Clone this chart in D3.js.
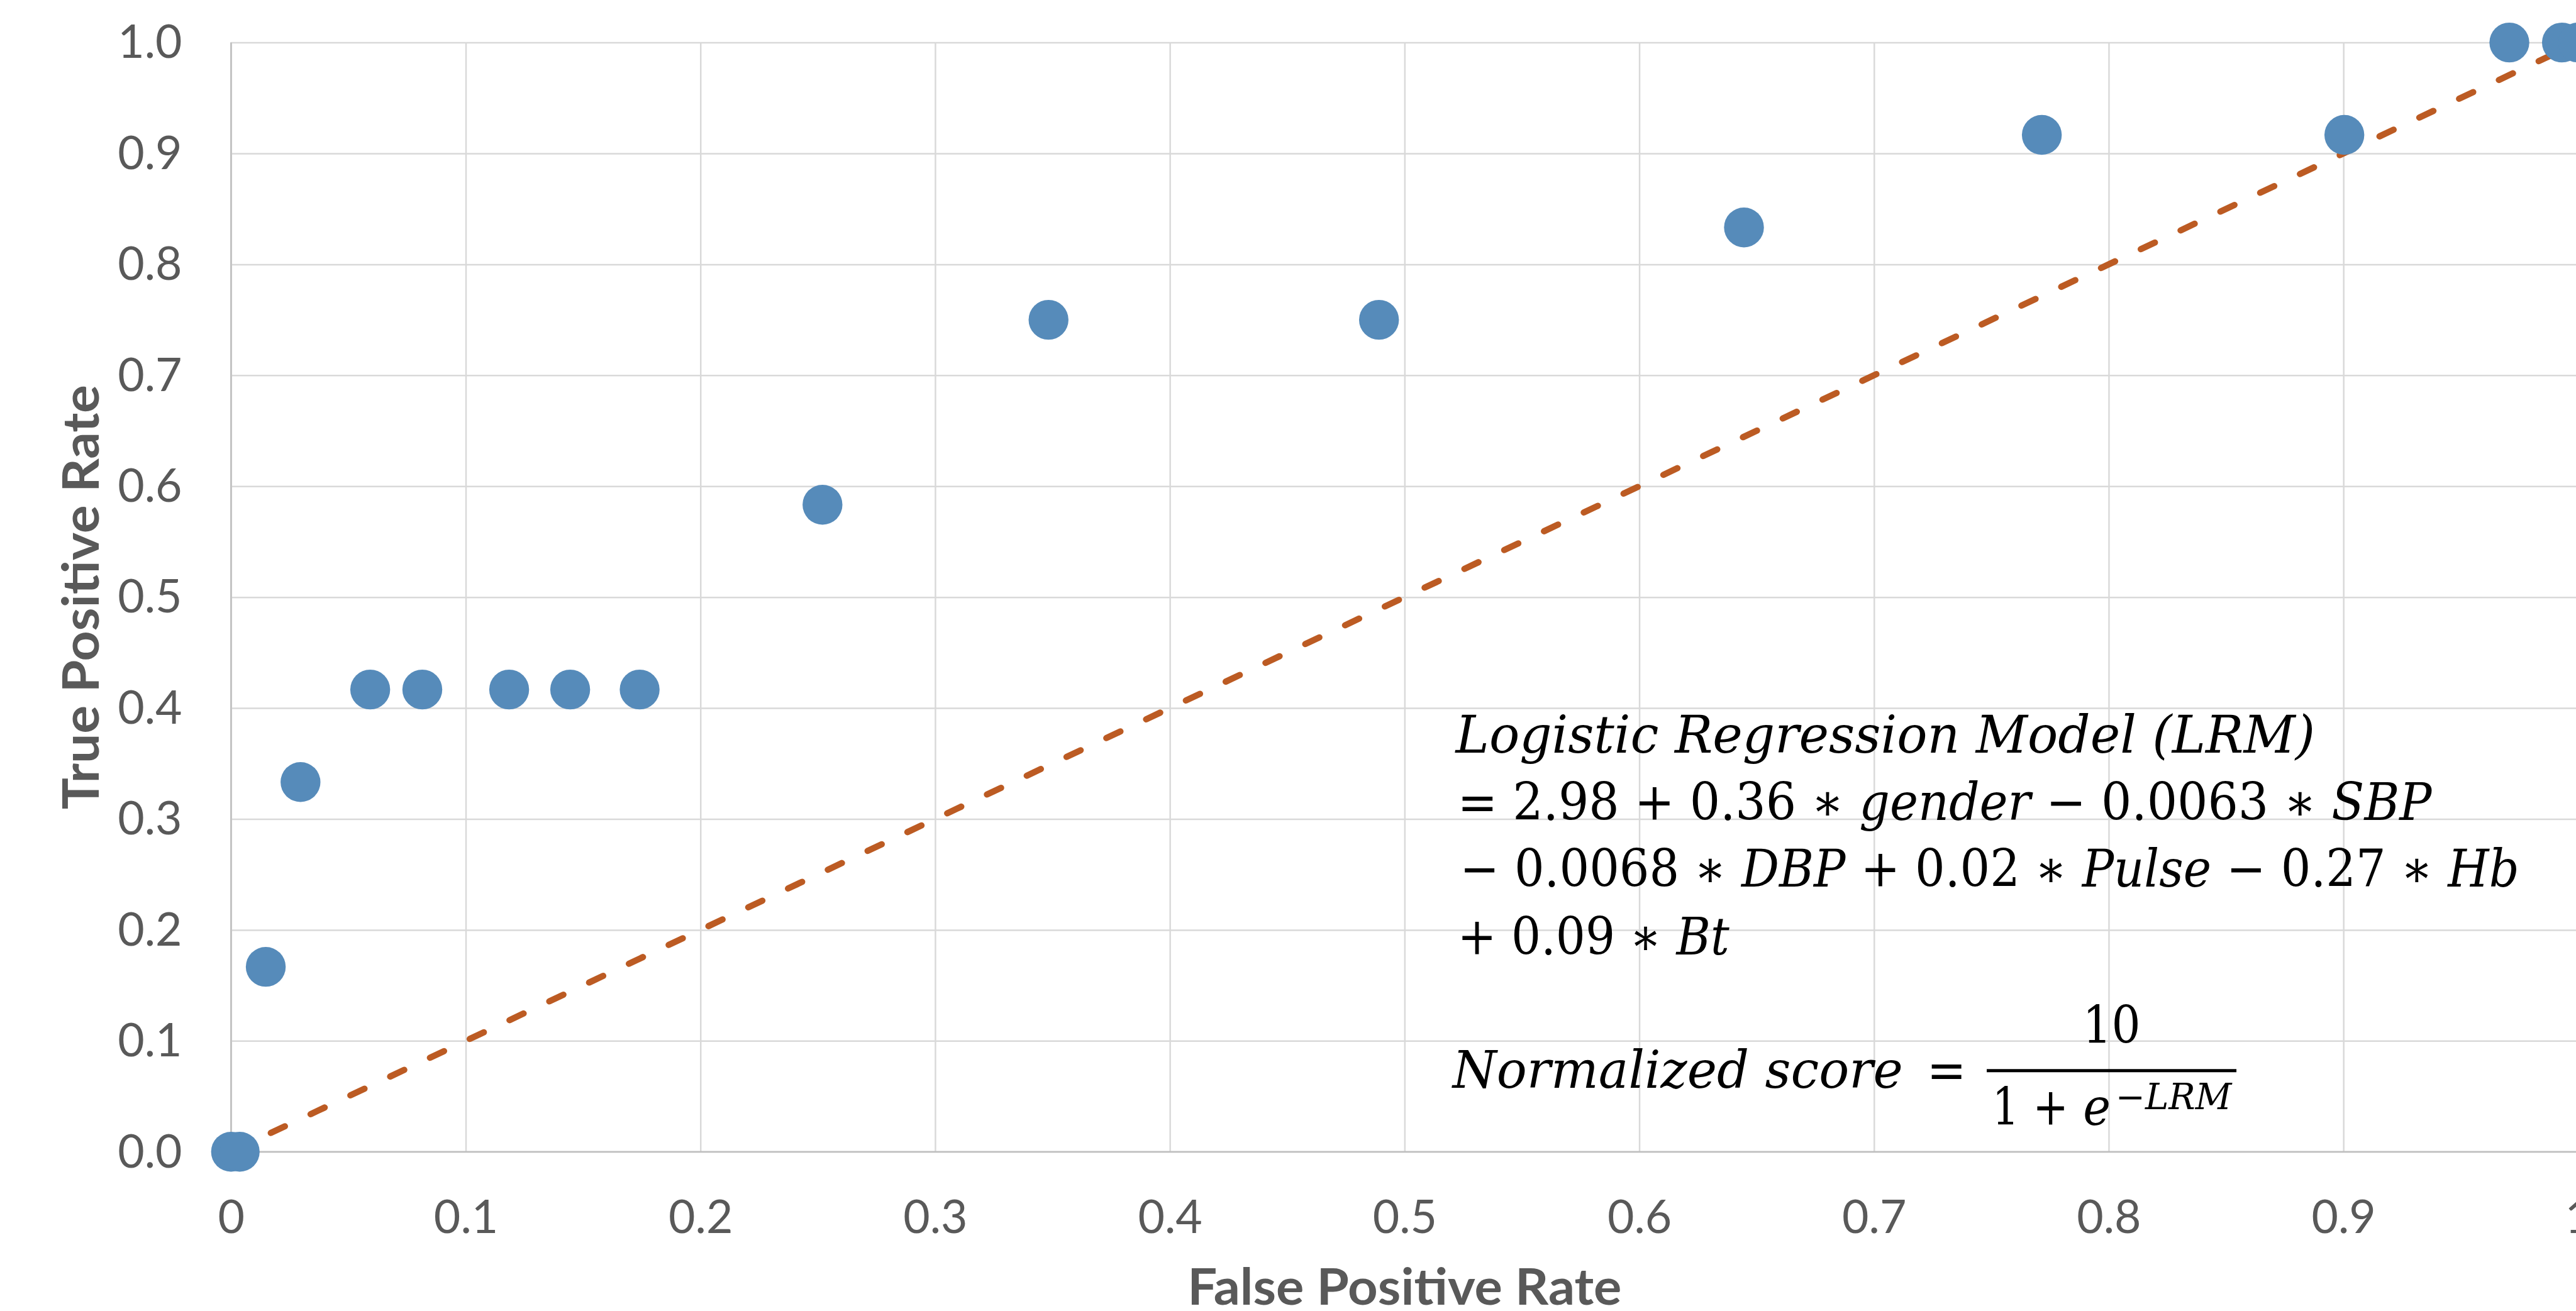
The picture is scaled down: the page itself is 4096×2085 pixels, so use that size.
<!DOCTYPE html>
<html>
<head>
<meta charset="utf-8">
<script src="https://cdn.jsdelivr.net/npm/d3@7"></script>
<style>
  html, body { margin: 0; padding: 0; background: #fff; }
  svg { display: block; }
</style>
</head>
<body>
<svg id="chart"></svg>
<script>
// ROC points
const fpr = [0, 0.0037, 0.0148, 0.0296, 0.0593, 0.0815, 0.1185, 0.1445, 0.1741,
  0.252, 0.3483, 0.4891, 0.6446, 0.7715, 0.9004, 0.9707, 0.9931, 1.0];
const tpr = [0, 0, 0.1667, 0.3333, 0.4167, 0.4167, 0.4167, 0.4167, 0.4167,
  0.5833, 0.75, 0.75, 0.8333, 0.9167, 0.9167, 1, 1, 1];
const refLine = [0, 1];
const xTicks = [0, 0.1, 0.2, 0.3, 0.4, 0.5, 0.6, 0.7, 0.8, 0.9, 1];
const yTicks = [0, 0.1, 0.2, 0.3, 0.4, 0.5, 0.6, 0.7, 0.8, 0.9, 1];

// work in the reference's own pixel space, viewBox scales it to the window
const W = 4302, H = 2190;
const plot = { left: 385.7, right: 4305.7, top: 71, bottom: 1924 };

const svg = d3.select("#chart")
  .attr("width", 4096)
  .attr("height", 2085)
  .attr("viewBox", `0 0 ${W} ${H}`);

const x = d3.scaleLinear().domain([0, 1]).range([plot.left, plot.right]);
const y = d3.scaleLinear().domain([0, 1]).range([plot.bottom, plot.top]);

const tickFont = "Lato, Carlito, 'Liberation Sans', sans-serif";

// gridlines
svg.append("g")
  .attr("transform", `translate(0,${plot.bottom})`)
  .call(d3.axisBottom(x).tickValues(xTicks).tickSize(-(plot.bottom - plot.top)).tickFormat(""))
  .call(g => g.select(".domain").remove())
  .call(g => g.selectAll("line").attr("stroke", "#d9d9d9").attr("stroke-width", 2.6));

svg.append("g")
  .attr("transform", `translate(${plot.left},0)`)
  .call(d3.axisLeft(y).tickValues(yTicks).tickSize(-(plot.right - plot.left)).tickFormat(""))
  .call(g => g.select(".domain").remove())
  .call(g => g.selectAll("line").attr("stroke", "#d9d9d9").attr("stroke-width", 2.6));

// axis lines
svg.append("line")
  .attr("x1", x(0)).attr("x2", x(0)).attr("y1", y(0)).attr("y2", y(1))
  .attr("stroke", "#bfbfbf").attr("stroke-width", 2.6);
svg.append("line")
  .attr("x1", x(0)).attr("x2", x(1)).attr("y1", y(0)).attr("y2", y(0))
  .attr("stroke", "#bfbfbf").attr("stroke-width", 2.6);

// tick labels
const xAxis = svg.append("g")
  .attr("transform", `translate(0,${plot.bottom})`)
  .call(d3.axisBottom(x).tickValues(xTicks).tickSize(0).tickPadding(0)
    .tickFormat(d => (d === 0 || d === 1) ? String(d) : d3.format(".1f")(d)));
xAxis.select(".domain").remove();
xAxis.selectAll("text")
  .attr("y", 136).attr("dy", null)
  .attr("font-family", tickFont).attr("font-size", 77).attr("fill", "#595959");

const yAxis = svg.append("g")
  .attr("transform", `translate(${plot.left},0)`)
  .call(d3.axisLeft(y).tickValues(yTicks).tickSize(0).tickPadding(0).tickFormat(d3.format(".1f")));
yAxis.select(".domain").remove();
yAxis.selectAll("text")
  .attr("x", -(plot.left - 304)).attr("dy", null).attr("y", 25.5)
  .attr("font-family", tickFont).attr("font-size", 77).attr("fill", "#595959");

// axis titles
svg.append("text")
  .attr("x", (plot.left + plot.right) / 2).attr("y", 2180)
  .attr("text-anchor", "middle")
  .attr("font-family", tickFont).attr("font-weight", "bold").attr("font-size", 84)
  .attr("fill", "#595959")
  .attr("textLength", 725).attr("lengthAdjust", "spacingAndGlyphs")
  .text("False Positive Rate");

svg.append("text")
  .attr("transform", `translate(165,${(plot.top + plot.bottom) / 2}) rotate(-90)`)
  .attr("text-anchor", "middle")
  .attr("font-family", tickFont).attr("font-weight", "bold").attr("font-size", 84)
  .attr("fill", "#595959")
  .attr("textLength", 709).attr("lengthAdjust", "spacingAndGlyphs")
  .text("True Positive Rate");

// chance line
svg.append("path")
  .datum(refLine)
  .attr("d", d3.line().x(d => x(d)).y(d => y(d)))
  .attr("fill", "none")
  .attr("stroke", "#bc5b23")
  .attr("stroke-width", 10.5)
  .attr("stroke-linecap", "round")
  .attr("stroke-dasharray", "26 47.5");

// ROC points
svg.append("g")
  .selectAll("circle")
  .data(fpr)
  .join("circle")
  .attr("cx", d => x(d))
  .attr("cy", (d, i) => y(tpr[i]))
  .attr("r", 33.3)
  .attr("fill", "#568bba");

// formula annotation: each piece is squeezed horizontally to the reference width
const mathFont = "'DejaVu Serif', 'Liberation Serif', serif";

function mathLine(parts, px, py, len, size) {
  const g = svg.append("g");
  const t = g.append("text")
    .attr("font-family", mathFont).attr("font-size", size || 86).attr("fill", "#000")
    .attr("xml:space", "preserve");
  parts.forEach(p => {
    const s = t.append("tspan")
      .attr("font-style", p[1] ? "italic" : "normal")
      .text(p[0]);
    if (p[2]) s.attr("font-size", p[2]).attr("dy", p[3]);
  });
  const natural = t.node().getComputedTextLength();
  g.attr("transform", `translate(${px},${py}) scale(${len / natural},1)`);
  return g;
}

mathLine([["Logistic Regression Model (LRM)", true]], 2431, 1257.6, 1435);
mathLine([["= 2.98 + 0.36 \u2217 ", false], ["gender", true], [" \u2212 0.0063 \u2217 ", false], ["SBP", true]],
  2434, 1370, 1627);
mathLine([["\u2212 0.0068 \u2217 ", false], ["DBP", true], [" + 0.02 \u2217 ", false], ["Pulse", true],
  [" \u2212 0.27 \u2217 ", false], ["Hb", true]], 2438, 1481.5, 1769);
mathLine([["+ 0.09 \u2217 ", false], ["Bt", true]], 2434, 1594, 454);

mathLine([["Normalized score", true]], 2426, 1817, 752);
mathLine([["=", false]], 3218, 1817, 66);
mathLine([["10", false]], 3478, 1743, 97);
svg.append("line")
  .attr("x1", 3318).attr("x2", 3735).attr("y1", 1788.5).attr("y2", 1788.5)
  .attr("stroke", "#000").attr("stroke-width", 5);
mathLine([["1 + ", false]], 3327, 1879.4, 150);
mathLine([["e", true]], 3479, 1879.4, 46);
mathLine([["\u2212", false], ["LRM", true]], 3533, 1853, 194, 60);
</script>
</body>
</html>
